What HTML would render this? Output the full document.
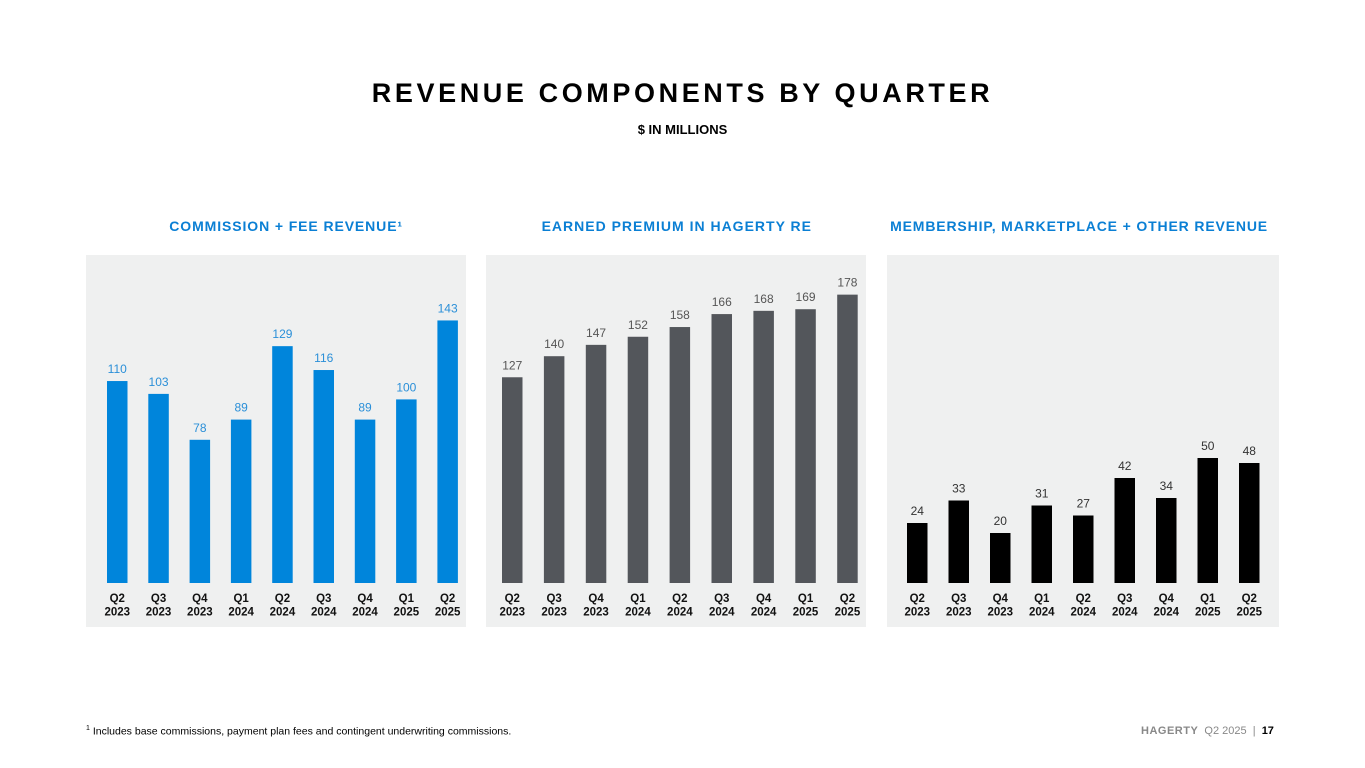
<!DOCTYPE html>
<html><head><meta charset="utf-8"><style>
body{margin:0;width:1365px;height:768px;background:#fff;font-family:"Liberation Sans",sans-serif;overflow:hidden;position:relative}
.t{position:absolute;white-space:nowrap}
</style></head><body>
<div class="t" style="left:0;width:1365px;text-align:center;top:78px;font-size:27px;font-weight:bold;letter-spacing:3.6px;color:#000">REVENUE COMPONENTS BY QUARTER</div>
<div class="t" style="left:0;width:1365px;text-align:center;top:122px;font-size:13px;font-weight:bold;color:#000">$ IN MILLIONS</div>
<div class="t" style="left:86px;top:725px;font-size:10.5px;color:#000"><sup style="font-size:7px">1</sup> Includes base commissions, payment plan fees and contingent underwriting commissions.</div>
<div class="t" style="left:1141px;top:725px;font-size:11px;color:#888"><b style="letter-spacing:0.5px">HAGERTY</b>&nbsp; Q2 2025 &nbsp;|&nbsp; <b style="color:#000">17</b></div>
<svg id="c" width="1365" height="768" style="position:absolute;left:0;top:0"></svg>
<script>
const categories=["Q2 2023","Q3 2023","Q4 2023","Q1 2024","Q2 2024","Q3 2024","Q4 2024","Q1 2025","Q2 2025"];
const commissionValues=[110,103,78,89,129,116,89,100,143];
const premiumValues=[127,140,147,152,158,166,168,169,178];
const membershipValues=[24,33,20,31,27,42,34,50,48];
const panelTitles=["COMMISSION + FEE REVENUE¹","EARNED PREMIUM IN HAGERTY RE","MEMBERSHIP, MARKETPLACE + OTHER REVENUE"];
const NS="http://www.w3.org/2000/svg",svg=document.getElementById('c');
function mk(t,a,p){const e=document.createElementNS(NS,t);for(const k in a)e.setAttribute(k,a[k]);(p||svg).appendChild(e);return e;}
const panels=[
 {x:86,w:380,x0:107,step:41.3,scale:1.836,fill:"#0085db",lbl:"#2a8fd8",data:commissionValues,tx:403,ls:0.9},
 {x:486,w:380,x0:502,step:41.9,scale:1.62,fill:"#53565b",lbl:"#555",data:premiumValues,tx:812,ls:1.0},
 {x:887,w:392,x0:907,step:41.5,scale:2.5,fill:"#000",lbl:"#333",data:membershipValues,tx:1268,ls:0.85}
];
const base=583;
panels.forEach((p,i)=>{
 const g=mk('g',{});
 
 
 const bg=mk('rect',{x:p.x,y:255,width:p.w,height:372,fill:"#eff0f0"},g);
 
 
 const tt=mk('text',{x:p.tx,y:231,'text-anchor':'end','font-size':14,'font-weight':'bold',fill:"#0a7fd4",'letter-spacing':p.ls},g);
 tt.textContent=panelTitles[i];
 
 
 p.data.forEach((v,j)=>{
  const x=p.x0+j*p.step,h=v*p.scale,cx=x+10.25;
  const r=mk('rect',{x:x,y:base-h,width:20.5,height:h,fill:p.fill},g);
  
  
  const vl=mk('text',{x:cx,y:base-h-8,'text-anchor':'middle','font-size':12,fill:p.lbl},g);
  vl.textContent=v;
  
  
  const [q,yr]=categories[j].split(' ');
  const l1=mk('text',{x:cx,y:602,'text-anchor':'middle','font-size':11.5,'font-weight':'bold',fill:"#111"},g);
  l1.textContent=q;
  
  
  const l2=mk('text',{x:cx,y:615.5,'text-anchor':'middle','font-size':11.5,'font-weight':'bold',fill:"#111"},g);
  l2.textContent=yr;
  
  
 });
});
</script>
</body></html>
